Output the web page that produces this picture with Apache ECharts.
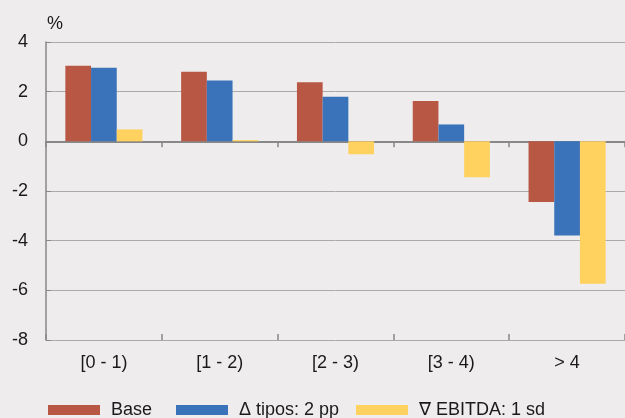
<!DOCTYPE html>
<html>
<head>
<meta charset="utf-8">
<script src="https://cdn.jsdelivr.net/npm/echarts@6/dist/echarts.min.js"></script>
<style>
html,body{margin:0;padding:0;background:#eeeced;}
#c{width:625px;height:418px;}
</style>
</head>
<body>
<div id="c"></div>
<script>
const categories = ['[0 - 1)', '[1 - 2)', '[2 - 3)', '[3 - 4)', '> 4'];
const seriesNames = ['Base', 'Δ tipos: 2 pp', '∇ EBITDA: 1 sd'];
const baseValues = [3.04, 2.80, 2.38, 1.62, -2.44];
const tiposValues = [2.96, 2.45, 1.80, 0.68, -3.79];
const ebitdaValues = [0.48, 0.05, -0.52, -1.45, -5.73];
const yTicks = { min: -8, max: 4, interval: 2 };
const colors = ['#b95745', '#3a73b9', '#ffd15f'];
const legendLefts = [48, 176, 356];

const font = 'Liberation Sans, Arial, Helvetica, sans-serif';
const chart = echarts.init(document.getElementById('c'), null, { renderer: 'canvas' });

function bar(name, data, color) {
  return {
    name: name, type: 'bar', data: data, xAxisIndex: 0,
    barGap: '0%', barCategoryGap: '33.4%',
    itemStyle: { color: color },
    emphasis: { disabled: true }
  };
}

function legendFor(i) {
  return {
    show: true, left: legendLefts[i], top: 401, padding: 0,
    itemWidth: 52, itemHeight: 10, itemGap: 0, icon: 'rect',
    selectedMode: false,
    textStyle: { color: '#1a1a1a', fontFamily: font, fontSize: 18, padding: [0, 0, 0, 6] },
    data: [seriesNames[i]]
  };
}

chart.setOption({
  backgroundColor: '#eeeced',
  animation: false,
  color: colors,
  grid: { left: 46, right: 0, top: 42, bottom: 78, containLabel: false },
  xAxis: [
    {
      type: 'category', data: categories, position: 'bottom',
      axisLine: { show: false, onZero: false },
      axisTick: { show: false },
      axisLabel: { color: '#1a1a1a', fontFamily: font, fontSize: 18, margin: 14 },
      splitLine: { show: false }
    },
    {
      type: 'category', data: categories, position: 'bottom',
      axisLine: { show: true, onZero: true, lineStyle: { color: '#888', width: 2 } },
      axisTick: { show: true, inside: false, length: 6, lineStyle: { color: '#888', width: 1.5 } },
      axisLabel: { show: false }
    },
    {
      type: 'category', data: categories, position: 'bottom',
      axisLine: { show: false, onZero: true },
      axisTick: { show: true, inside: true, length: 6, lineStyle: { color: '#888', width: 1.5 } },
      axisLabel: { show: false }
    }
  ],
  yAxis: {
    type: 'value', min: yTicks.min, max: yTicks.max, interval: yTicks.interval,
    name: '%', nameLocation: 'end', nameGap: 9,
    nameTextStyle: { color: '#1a1a1a', fontFamily: font, fontSize: 18, align: 'left', padding: [0, 0, 0, 1] },
    axisLine: { show: true, lineStyle: { color: '#888', width: 1.5 } },
    axisTick: { show: true, inside: true, length: 5, lineStyle: { color: '#888' } },
    axisLabel: { color: '#1a1a1a', fontFamily: font, fontSize: 18, margin: 18 },
    splitLine: { show: true, lineStyle: { color: '#aaaaaa', width: 1 } }
  },
  legend: [legendFor(0), legendFor(1), legendFor(2)],
  series: [
    bar(seriesNames[0], baseValues, colors[0]),
    bar(seriesNames[1], tiposValues, colors[1]),
    bar(seriesNames[2], ebitdaValues, colors[2])
  ]
});
</script>
</body>
</html>
